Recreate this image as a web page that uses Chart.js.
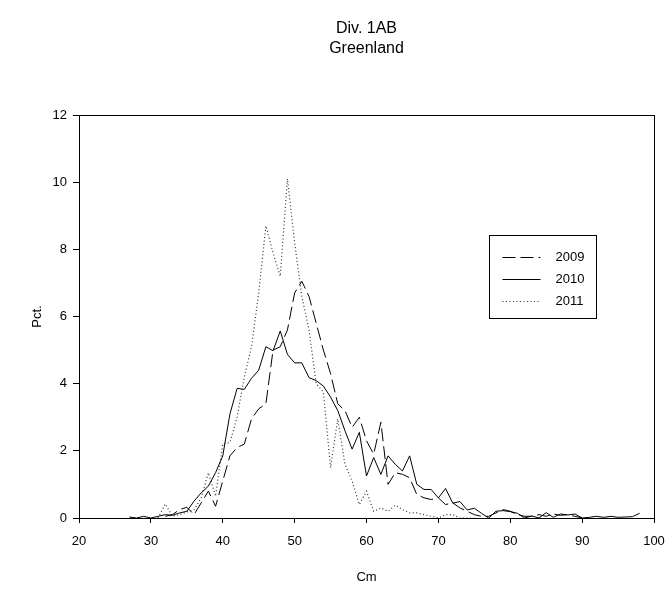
<!DOCTYPE html>
<html>
<head>
<meta charset="utf-8">
<script src="https://cdn.jsdelivr.net/npm/chart.js@4/dist/chart.umd.min.js"></script>
<style>
  body { margin: 0; background: #fff; }
  #wrap { width: 668px; height: 591px; }
</style>
</head>
<body>
<div id="wrap"><canvas id="chart" width="668" height="591"></canvas></div>
<script>
// length classes (cm), one entry per cm
const lengths = [];
for (let c = 27; c <= 98; c++) lengths.push(c);

// 2009 starts at 32 cm, ends at 90 cm
const pct2009 = [
  null, null, null, null, null,
  0.05, 0.1, 0.25, 0.32, 0.1, 0.45, 0.8, 0.35, 1.1, 1.85,
  2.1, 2.2, 2.95, 3.25, 3.4, 5.0, 5.1, 5.6, 6.7, 7.05,
  6.6, 5.8, 5.0, 4.3, 3.4, 3.2, 2.7, 3.0, 2.3, 1.9,
  2.85, 1.0, 1.35, 1.3, 1.2, 0.7, 0.6, 0.55, 0.6, 0.4,
  0.45, 0.3, 0.2, 0.1, 0.05, 0.05, 0.15, 0.25, 0.2, 0.1,
  0.05, 0.05, 0.1, 0.05, 0.12, 0.08, 0.1, 0.05, 0.0
];

// 2010 runs 27 - 98 cm
const pct2010 = [
  0.03, 0.0, 0.05, 0.0, 0.05, 0.1, 0.08, 0.15, 0.2, 0.5,
  0.75, 0.95, 1.35, 1.85, 3.1, 3.86, 3.83, 4.16, 4.4, 5.1,
  4.98, 5.57, 4.87, 4.62, 4.62, 4.18, 4.09, 3.93, 3.6, 3.2,
  2.6, 2.05, 2.55, 1.25, 1.8, 1.3, 1.85, 1.6, 1.4, 1.85,
  1.0, 0.85, 0.85, 0.6, 0.88, 0.44, 0.49, 0.24, 0.29, 0.14,
  0.0, 0.2, 0.22, 0.19, 0.14, 0.0, 0.06, 0.0, 0.16, 0.02,
  0.12, 0.09, 0.12, 0.0, 0.02, 0.05, 0.02, 0.05, 0.02, 0.03,
  0.04, 0.14
];

// 2011 starts at 31 cm, ends at 75 cm
const pct2011 = [
  null, null, null, null,
  0.0, 0.42, 0.05, 0.1, 0.18, 0.25, 0.6, 1.35, 0.65, 2.2,
  2.25, 3.0, 4.2, 5.1, 6.7, 8.7, 7.9, 7.2, 10.1, 8.2,
  6.6, 5.6, 4.0, 3.75, 1.5, 2.95, 1.6, 1.1, 0.4, 0.8,
  0.2, 0.3, 0.2, 0.38, 0.25, 0.15, 0.15, 0.1, 0.05, 0.0,
  0.1, 0.1, 0.0, 0.0, 0.0
];

const xTicks = [20, 30, 40, 50, 60, 70, 80, 90, 100];
const yTicks = [0, 2, 4, 6, 8, 10, 12];

const toPoints = (vals) => lengths.map((c, i) => ({ x: c, y: vals[i] === undefined ? null : vals[i] }));

const FONT = '"Liberation Sans", Arial, sans-serif';

// frame around the plot and legend box inside it
const framePlugin = {
  id: 'frame',
  afterDatasetsDraw(chart) {
    const { ctx, chartArea: a } = chart;
    ctx.save();
    ctx.strokeStyle = '#000';
    ctx.lineWidth = 1;
    ctx.strokeRect(Math.round(a.left) + 0.5, Math.round(a.top) + 0.5,
      Math.round(a.right - a.left), Math.round(a.bottom - a.top));

    // legend
    const w = a.right - a.left, h = a.bottom - a.top;
    const bx = Math.round(a.left + w * 0.713) + 0.5;
    const by = Math.round(a.top + h * 0.298) + 0.5;
    const bw = 107, bh = 83;
    ctx.fillStyle = '#fff';
    ctx.fillRect(bx, by, bw, bh);
    ctx.strokeRect(bx, by, bw, bh);
    ctx.font = '13px ' + FONT;
    ctx.textBaseline = 'middle';
    chart.data.datasets.forEach((ds, i) => {
      const yy = Math.round(by + 21 + i * 22) + 0.5;
      ctx.beginPath();
      ctx.setLineDash(ds.borderDash || []);
      ctx.strokeStyle = ds.borderColor;
      ctx.lineWidth = ds.borderWidth;
      ctx.moveTo(bx + 13, yy);
      ctx.lineTo(bx + 51, yy);
      ctx.stroke();
      ctx.setLineDash([]);
      ctx.fillStyle = '#000';
      ctx.fillText(ds.label, bx + 66, yy);
    });
    ctx.restore();
  }
};

new Chart(document.getElementById('chart'), {
  type: 'line',
  data: {
    datasets: [
      { label: '2009', data: toPoints(pct2009), borderColor: '#000', borderWidth: 1, borderDash: [13, 5] },
      { label: '2010', data: toPoints(pct2010), borderColor: '#000', borderWidth: 1 },
      { label: '2011', data: toPoints(pct2011), borderColor: '#333', borderWidth: 1.2, borderDash: [1, 2.5] }
    ]
  },
  options: {
    responsive: true,
    maintainAspectRatio: false,
    animation: false,
    layout: { padding: { left: 0, right: 14, top: 0, bottom: 0 } },
    elements: { point: { radius: 0 }, line: { tension: 0 } },
    plugins: {
      legend: { display: false },
      tooltip: { enabled: false },
      title: {
        display: true,
        fullSize: false,
        text: ['Div. 1AB', 'Greenland'],
        color: '#000',
        font: { family: FONT, size: 16, weight: 'normal', lineHeight: 1.25 },
        padding: { top: 19, bottom: 56 }
      }
    },
    scales: {
      x: {
        type: 'linear',
        min: 20, max: 100,
        afterBuildTicks: (s) => { s.ticks = xTicks.map(v => ({ value: v })); },
        afterFit: (s) => { s.height = 73; s.paddingLeft = 0; s.paddingRight = 0; },
        ticks: { color: '#000', font: { family: FONT, size: 13 }, padding: 11 },
        grid: { drawOnChartArea: false, tickLength: 5, color: '#000' },
        border: { color: '#000' },
        title: { display: true, text: 'Cm', color: '#000', font: { family: FONT, size: 13 }, padding: { bottom: 6 } }
      },
      y: {
        min: 0, max: 12,
        afterBuildTicks: (s) => { s.ticks = yTicks.map(v => ({ value: v })); },
        afterFit: (s) => { s.width = 79; s.paddingTop = 0; s.paddingBottom = 0; },
        ticks: { color: '#000', font: { family: FONT, size: 13 }, padding: 6 },
        grid: { drawOnChartArea: false, tickLength: 6, color: '#000' },
        border: { color: '#000' },
        title: { display: true, text: 'Pct.', color: '#000', font: { family: FONT, size: 13 }, padding: { top: 30 } }
      }
    }
  },
  plugins: [framePlugin]
});
</script>
</body>
</html>
